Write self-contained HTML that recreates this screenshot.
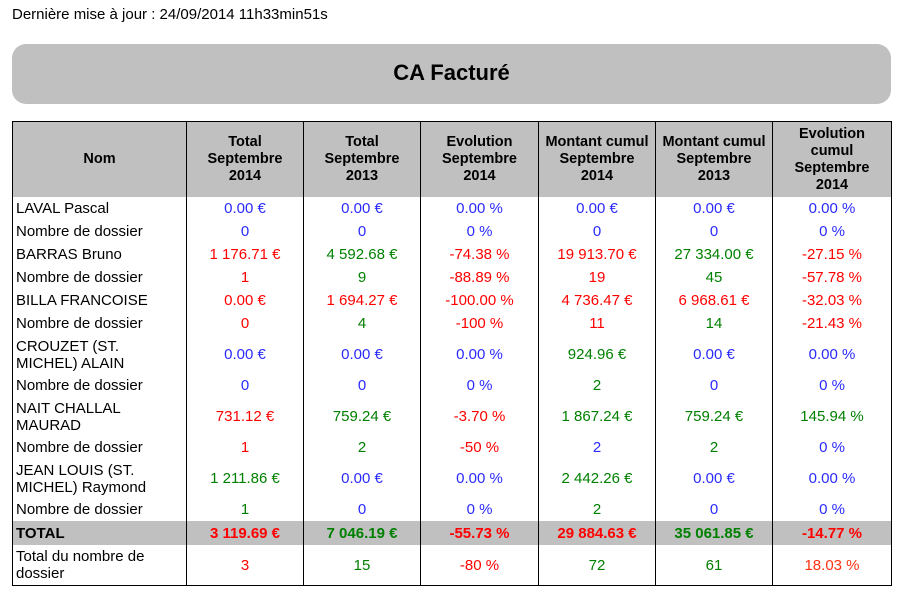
<!DOCTYPE html>
<html><head><meta charset="utf-8">
<style>
body{margin:0;width:908px;height:614px;background:#fff;font-family:"Liberation Sans",Arial,sans-serif;font-size:15px;color:#000;position:relative;overflow:hidden}
#upd{position:absolute;left:12px;top:6px;font-size:15px}
#title{position:absolute;left:12px;top:44px;width:879px;height:60px;background:#c0c0c0;border-radius:14px;text-align:center;line-height:58px;font-weight:bold;font-size:22px}
table{position:absolute;left:12px;top:121px;border-collapse:collapse;border:1.5px solid #000;width:879px;table-layout:fixed}
td,th{border-left:1.5px solid #000;padding:0 3px;text-align:center;line-height:17px}
th{background:#c0c0c0;height:75px;font-weight:bold;font-size:14.5px}
td:first-child{text-align:left}
tr.r1 td{height:23px}tr.r2 td{height:39px}
tr.tot td{background:#c0c0c0;font-weight:bold;height:24px}
tr.last td{height:40px}
.b{color:#2a2aff}.r{color:#ff0000}.g{color:#008000}.o{color:#ff3010}
</style></head><body>
<div id="upd">Dernière mise à jour : 24/09/2014 11h33min51s</div>
<div id="title">CA Facturé</div>
<table>
<colgroup><col style="width:174px"><col style="width:117px"><col style="width:117px"><col style="width:118px"><col style="width:117px"><col style="width:117px"><col style="width:119px"></colgroup>
<tr><th>Nom</th><th>Total<br>Septembre<br>2014</th><th>Total<br>Septembre<br>2013</th><th>Evolution<br>Septembre<br>2014</th><th>Montant cumul<br>Septembre<br>2014</th><th>Montant cumul<br>Septembre<br>2013</th><th>Evolution<br>cumul<br>Septembre<br>2014</th></tr>
<tr class="r1"><td>LAVAL Pascal</td><td class="b">0.00 €</td><td class="b">0.00 €</td><td class="b">0.00 %</td><td class="b">0.00 €</td><td class="b">0.00 €</td><td class="b">0.00 %</td></tr>
<tr class="r1"><td>Nombre de dossier</td><td class="b">0</td><td class="b">0</td><td class="b">0 %</td><td class="b">0</td><td class="b">0</td><td class="b">0 %</td></tr>
<tr class="r1"><td>BARRAS Bruno</td><td class="r">1 176.71 €</td><td class="g">4 592.68 €</td><td class="r">-74.38 %</td><td class="r">19 913.70 €</td><td class="g">27 334.00 €</td><td class="r">-27.15 %</td></tr>
<tr class="r1"><td>Nombre de dossier</td><td class="r">1</td><td class="g">9</td><td class="r">-88.89 %</td><td class="r">19</td><td class="g">45</td><td class="r">-57.78 %</td></tr>
<tr class="r1"><td>BILLA FRANCOISE</td><td class="r">0.00 €</td><td class="r">1 694.27 €</td><td class="r">-100.00 %</td><td class="r">4 736.47 €</td><td class="r">6 968.61 €</td><td class="r">-32.03 %</td></tr>
<tr class="r1"><td>Nombre de dossier</td><td class="r">0</td><td class="g">4</td><td class="r">-100 %</td><td class="r">11</td><td class="g">14</td><td class="r">-21.43 %</td></tr>
<tr class="r2"><td>CROUZET (ST.<br>MICHEL) ALAIN</td><td class="b">0.00 €</td><td class="b">0.00 €</td><td class="b">0.00 %</td><td class="g">924.96 €</td><td class="b">0.00 €</td><td class="b">0.00 %</td></tr>
<tr class="r1"><td>Nombre de dossier</td><td class="b">0</td><td class="b">0</td><td class="b">0 %</td><td class="g">2</td><td class="b">0</td><td class="b">0 %</td></tr>
<tr class="r2"><td>NAIT CHALLAL<br>MAURAD</td><td class="r">731.12 €</td><td class="g">759.24 €</td><td class="r">-3.70 %</td><td class="g">1 867.24 €</td><td class="g">759.24 €</td><td class="g">145.94 %</td></tr>
<tr class="r1"><td>Nombre de dossier</td><td class="r">1</td><td class="g">2</td><td class="r">-50 %</td><td class="b">2</td><td class="g">2</td><td class="b">0 %</td></tr>
<tr class="r2"><td>JEAN LOUIS (ST.<br>MICHEL) Raymond</td><td class="g">1 211.86 €</td><td class="b">0.00 €</td><td class="b">0.00 %</td><td class="g">2 442.26 €</td><td class="b">0.00 €</td><td class="b">0.00 %</td></tr>
<tr class="r1"><td>Nombre de dossier</td><td class="g">1</td><td class="b">0</td><td class="b">0 %</td><td class="g">2</td><td class="b">0</td><td class="b">0 %</td></tr>
<tr class="tot"><td>TOTAL</td><td class="r">3 119.69 €</td><td class="g">7 046.19 €</td><td class="r">-55.73 %</td><td class="r">29 884.63 €</td><td class="g">35 061.85 €</td><td class="r">-14.77 %</td></tr>
<tr class="last"><td>Total du nombre de<br>dossier</td><td class="r">3</td><td class="g">15</td><td class="r">-80 %</td><td class="g">72</td><td class="g">61</td><td class="o">18.03 %</td></tr>
</table>
</body></html>
